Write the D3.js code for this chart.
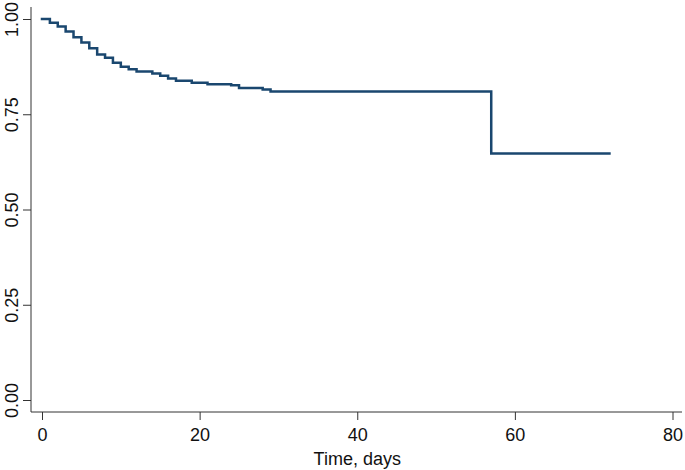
<!DOCTYPE html>
<html>
<head>
<meta charset="utf-8">
<script src="https://cdn.jsdelivr.net/npm/d3@7"></script>
<style>
  body { margin: 0; background: #fff; }
  svg { display: block; font-family: "Liberation Sans", Arial, sans-serif; }
</style>
</head>
<body>
<div id="chart"></div>
<script>
// Kaplan-Meier survival curve
var days     = [0, 1, 2, 3, 4, 5, 6, 7, 8, 9, 10, 11, 12, 14, 15, 16, 17, 19, 21, 24, 25, 28, 29, 57];
var survival = [1.000, 0.990, 0.980, 0.967, 0.952, 0.938, 0.923, 0.907, 0.898, 0.885, 0.875, 0.868,
                0.862, 0.857, 0.851, 0.844, 0.838, 0.833, 0.829, 0.826, 0.819, 0.815, 0.810, 0.647];
var lastDay = 72;

var xTicks = [0, 20, 40, 60, 80];
var yTicks = [0, 0.25, 0.5, 0.75, 1];
var xTitle = "Time, days";

var width = 685,
    height = 470;

var svg = d3.select("#chart").append("svg")
    .attr("width", width)
    .attr("height", height);

var x = d3.scaleLinear().domain([0, 80]).range([42, 672.5]);
var y = d3.scaleLinear().domain([0, 1]).range([400, 19]);

var axisColor = "#333";
var fontSize = 18;

//y axis, labels turned on their side
var gy = svg.append("g")
    .attr("transform", "translate(31,0)")
    .call(d3.axisLeft(y).tickValues(yTicks).tickFormat(d3.format(".2f")).tickSize(8));
gy.select(".domain").remove();
gy.append("line")
    .attr("x1", 0).attr("x2", 0)
    .attr("y1", 7).attr("y2", 412)
    .attr("stroke", axisColor);
gy.selectAll(".tick line").attr("stroke", axisColor);
gy.selectAll(".tick text")
    .attr("font-size", fontSize)
    .attr("fill", "#111")
    .attr("text-anchor", "middle")
    .attr("x", 0)
    .attr("dy", 0)
    .attr("transform", "translate(-19,0) rotate(-90)")
    .attr("dominant-baseline", "central");

//x axis
var gx = svg.append("g")
    .attr("transform", "translate(0,412)")
    .call(d3.axisBottom(x).tickValues(xTicks).tickFormat(d3.format("d")).tickSize(8).tickPadding(8));
gx.select(".domain").remove();
gx.append("line")
    .attr("x1", 31).attr("x2", 682)
    .attr("y1", 0).attr("y2", 0)
    .attr("stroke", axisColor);
gx.selectAll(".tick line").attr("stroke", axisColor);
gx.selectAll(".tick text")
    .attr("font-size", fontSize)
    .attr("fill", "#111");

svg.append("text")
    .attr("x", (x(0) + x(80)) / 2)
    .attr("y", 465)
    .attr("text-anchor", "middle")
    .attr("font-size", fontSize)
    .attr("fill", "#111")
    .text(xTitle);

//step curve
var pts = days.map(function(d, i) { return [d, survival[i]]; });
pts.push([lastDay, survival[survival.length - 1]]);

var line = d3.line()
    .x(function(d) { return x(d[0]); })
    .y(function(d) { return y(d[1]); })
    .curve(d3.curveStepAfter);

svg.append("path")
    .datum(pts)
    .attr("d", line)
    .attr("fill", "none")
    .attr("stroke", "#1a476f")
    .attr("stroke-width", 2.5)
    .attr("stroke-linejoin", "miter")
    .attr("stroke-linecap", "square");
</script>
</body>
</html>
